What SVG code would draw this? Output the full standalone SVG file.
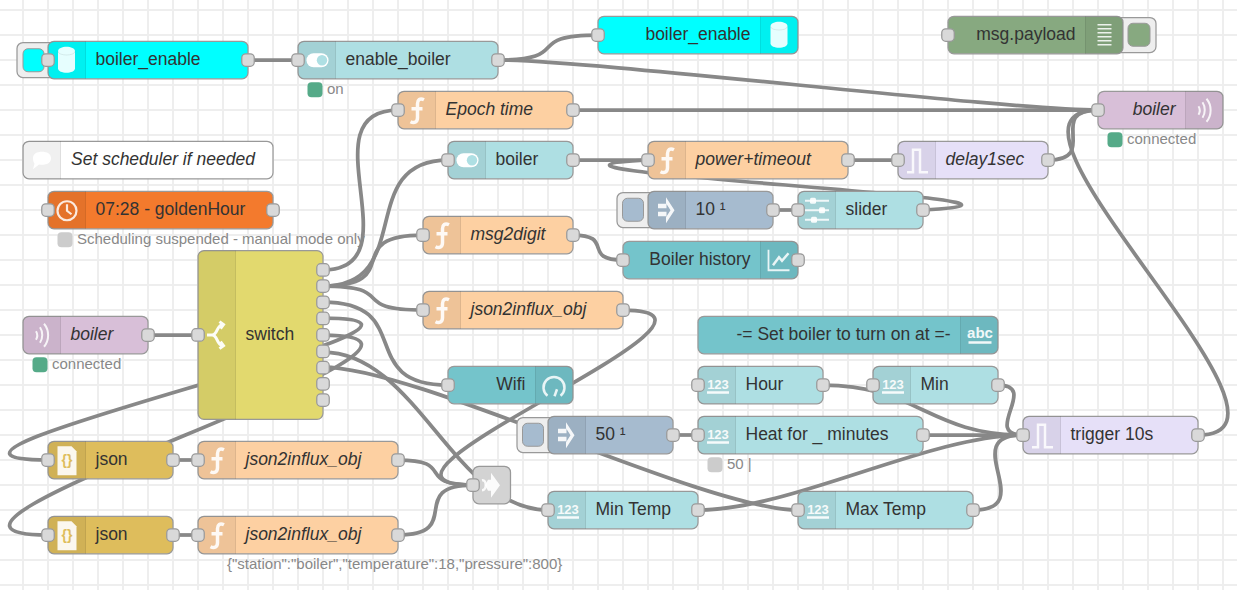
<svg xmlns="http://www.w3.org/2000/svg" width="1237" height="590" viewBox="0 0 1237 590">
<style>
text{font-family:"Liberation Sans",Arial,sans-serif;font-size:17.5px;fill:#333}
.it{font-style:italic}
.r{text-anchor:end}
.st{font-size:15px;fill:#888}
.n{height:37.5px;rx:6px;ry:6px;stroke:#999;stroke-width:1.25}
.p{width:12.5px;height:12.5px;rx:4px;ry:4px;fill:#d9d9d9;stroke:#999;stroke-width:1.25}
.b{height:35px;rx:6px;ry:6px;fill:#eee;stroke:#999;stroke-width:1.25}
.bi{height:23px;rx:5px;ry:5px;stroke:#999;stroke-width:1}
.d{width:15px;height:15px;rx:4px;ry:4px}
.w{fill:none;stroke:#888;stroke-width:3.75}
.g{stroke:#eee;stroke-width:2;fill:none}
.iw{fill:none;stroke:#fff;stroke-width:2.5;opacity:.85}
.if{fill:#fff;opacity:.9}
.ic{font-size:13px;font-weight:bold;fill:#fff;text-anchor:middle;opacity:.9}
.cy{fill:#0ff}.lt{fill:#aedfe3}.dk{fill:#74c4cb}.fn{fill:#fdd0a2}.gr{fill:#87a980}.mq{fill:#d8bfd8}.tr{fill:#e6e0f8}.ij{fill:#a6bbcf}.cr{fill:#f37a2d}.js{fill:#debd5c}.sw{fill:#e2d96e}.jn{fill:#d3d3d3}.wh{fill:#fff}
</style>
<defs>
<g id="il"><path d="M6 0H37.5V37.5H6a6 6 0 0 1-6-6V6a6 6 0 0 1 6-6z" fill="#000" fill-opacity=".06"/><path d="M37.5 0V37.5" stroke="#000" stroke-opacity=".1" stroke-width="1"/></g>
<g id="ir"><path d="M0 0H31.5a6 6 0 0 1 6 6V31.5a6 6 0 0 1-6 6H0z" fill="#000" fill-opacity=".06"/><path d="M0 0V37.5" stroke="#000" stroke-opacity=".1" stroke-width="1"/></g>
<g id="i-db"><path class="if" d="M10 10c0-6 17-6 17 0v17c0 6-17 6-17 0z"/><path d="M10 10c0 5 17 5 17 0" fill="none" stroke="#000" stroke-opacity=".08"/></g>
<g id="i-tog"><rect x="8.5" y="12" width="22" height="14" rx="7" fill="#fff"/><circle cx="24" cy="19" r="5.2" fill="#aedfe3"/></g>
<g id="i-f"><path class="iw" style="stroke-width:3.5;opacity:.9" d="M26 8.500c-4-2-6.500 0-6.500 4v14c0 4-3 6-7 4M13.500 17.500h11"/></g>
<g id="i-inj"><path class="if" d="M10 12.500h8.500v4.500H10zM10 20.500h8.500V25H10zM18 6l8.500 13L18 32v-6l4.500-7L18 12z"/></g>
<g id="i-clock"><circle class="iw" style="stroke-width:2.2" cx="19" cy="19.500" r="9.500"/><path class="iw" style="stroke-width:2.2" d="M19 13v6.500l4.500 3.500"/></g>
<g id="i-sl"><path class="iw" style="stroke-width:2" d="M7 9.500h24M7 19h24M7 28.500h24"/><rect class="if" x="12" y="6.500" width="6" height="6" rx="1.500"/><rect class="if" x="21" y="16" width="6" height="6" rx="1.500"/><rect class="if" x="13" y="25.500" width="6" height="6" rx="1.500"/></g>
<g id="i-ch"><path class="iw" style="stroke-width:1.800" d="M8 8.500V29H29"/><path class="iw" d="M12.500 24l6-8 3 3.500 6.500-7.500"/></g>
<g id="i-ga"><path class="iw" d="M12 29.500a10.500 10.500 0 1 1 13 0"/><path class="iw" d="M19 30l2.500-7"/></g>
<g id="i-li"><path class="iw" style="stroke-width:1.500" d="M12 8.500h14M12 12.500h14M12 16.500h14M12 20.500h14M12 24.500h14M12 28.500h14"/></g>
<g id="i-wv"><path class="iw" style="stroke-width:2" d="M13 15c1.500 2.500 1.500 6 0 8.500M17 11c3 4.500 3 11 0 15.500M21 7.500c5.500 6.500 5.500 16.500 0 23"/></g>
<g id="i-tg"><path class="iw" d="M9 31H15V8.500H22V31H30"/></g>
<g id="i-js"><path class="if" d="M9.500 5h14l5 5v24h-19z"/><text x="19" y="24" style="font-size:14px;font-weight:bold;fill:#debd5c;text-anchor:middle">{}</text></g>
<g id="i-123"><text class="ic" x="20" y="23">123</text><rect class="if" x="9" y="25" width="22" height="2.500"/></g>
</defs>
<g id="grid">
<path class="g" d="M23 0V590M48 0V590M73 0V590M98 0V590M123 0V590M148 0V590M173 0V590M198 0V590M223 0V590M248 0V590M273 0V590M298 0V590M323 0V590M348 0V590M373 0V590M398 0V590M423 0V590M448 0V590M473 0V590M498 0V590M523 0V590M548 0V590M573 0V590M598 0V590M623 0V590M648 0V590M673 0V590M698 0V590M723 0V590M748 0V590M773 0V590M798 0V590M823 0V590M848 0V590M873 0V590M898 0V590M923 0V590M948 0V590M973 0V590M998 0V590M1023 0V590M1048 0V590M1073 0V590M1098 0V590M1123 0V590M1148 0V590M1173 0V590M1198 0V590M1223 0V590"/>
<path class="g" d="M0 10H1237M0 35H1237M0 60H1237M0 85H1237M0 110H1237M0 135H1237M0 160H1237M0 185H1237M0 210H1237M0 235H1237M0 260H1237M0 285H1237M0 310H1237M0 335H1237M0 360H1237M0 385H1237M0 410H1237M0 435H1237M0 460H1237M0 485H1237M0 510H1237M0 535H1237M0 560H1237M0 585H1237"/>
</g>
<g id="connectors">
<path class="w" d="M248 60H298"/>
<path class="w" d="M498 60C575 60 521 35 598 35"/>
<path class="w" d="M498 60C592 60 1004 110 1098 110"/>
<path class="w" d="M573 110H1098"/>
<path class="w" d="M1048 160C1101 160 1045 110 1098 110"/>
<path class="w" d="M1198 435C1332 435 964 110 1098 110"/>
<path class="w" d="M323 270C416.750 270 304.250 110 398 110"/>
<path class="w" d="M323 286C416.750 286 354.250 160 448 160"/>
<path class="w" d="M323 286C407 286 339 235 423 235"/>
<path class="w" d="M323 286C400 286 346 310 423 310"/>
<path class="w" d="M323 302C416.750 302 354.250 385 448 385"/>
<path class="w" d="M323 318C526.750 318 -155.750 460 48 460"/>
<path class="w" d="M323 335C526.750 335 -155.750 535 48 535"/>
<path class="w" d="M323 352C416.750 352 454.250 510 548 510"/>
<path class="w" d="M323 367C416.750 367 704.250 510 798 510"/>
<path class="w" d="M623 310C776.750 310 319.250 485 473 485"/>
<path class="w" d="M148 335H198"/>
<path class="w" d="M173 460H198"/>
<path class="w" d="M173 535H198"/>
<path class="w" d="M398 460C457 460 414 485 473 485"/>
<path class="w" d="M398 535C465.600 535 405.400 485 473 485"/>
<path class="w" d="M573 160H648"/>
<path class="w" d="M848 160H898"/>
<path class="w" d="M773 210H798"/>
<path class="w" d="M923 210C1126.750 199.600 444.250 170.400 648 160"/>
<path class="w" d="M573 235C615 235 581 260 623 260"/>
<path class="w" d="M673 435H698"/>
<path class="w" d="M823 385C916.750 385 929.250 435 1023 435"/>
<path class="w" d="M998 385C1040 385 981 435 1023 435"/>
<path class="w" d="M923 435H1023"/>
<path class="w" d="M698 510C791.750 510 929.250 435 1023 435"/>
<path class="w" d="M973 510C1040.600 510 955.400 435 1023 435"/>
</g>
<g id="nodes">
<g id="boiler-enable-in" transform="translate(48,41.250)"><rect class="b" x="-31" y="1.250" width="50"/><rect class="bi cy" x="-25" y="7.500" width="21"/><rect class="n cy" width="200"/><use href="#il"/><use href="#i-db"/><text x="47.500" y="23.500">boiler_enable</text><rect class="p" x="-6.250" y="12.500"/><rect class="p" x="193.750" y="12.500"/></g>
<g id="enable-boiler" transform="translate(298,41.250)"><rect class="n lt" width="200"/><use href="#il"/><use href="#i-tog"/><text x="47.500" y="23.500">enable_boiler</text><rect class="p" x="-6.250" y="12.500"/><rect class="p" x="193.750" y="12.500"/><rect class="d" x="9.500" y="41" fill="#5a8"/><text class="st" x="29" y="53">on</text></g>
<g id="boiler-enable-out" transform="translate(598,16.250)"><rect class="n cy" width="200"/><use href="#ir" x="162.500"/><use href="#i-db" x="162.500"/><text class="r" x="152.500" y="23.500">boiler_enable</text><rect class="p" x="-6.250" y="12.500"/></g>
<g id="debug" transform="translate(948,16.250)"><rect class="b" x="155" y="1.250" width="53"/><rect class="bi gr" x="180" y="7" width="22"/><rect class="n gr" width="175"/><use href="#ir" x="137.500"/><use href="#i-li" x="137.500"/><text class="r" x="127.500" y="23.500">msg.payload</text><rect class="p" x="-6.250" y="12.500"/></g>
<g id="epoch-time" transform="translate(398,91.250)"><rect class="n fn" width="175"/><use href="#il"/><use href="#i-f"/><text class="it" x="47.500" y="23.500">Epoch time</text><rect class="p" x="-6.250" y="12.500"/><rect class="p" x="168.750" y="12.500"/></g>
<g id="mqtt-out" transform="translate(1098,91.250)"><rect class="n mq" width="125"/><use href="#ir" x="87.500"/><use href="#i-wv" x="87.500"/><text class="r it" x="77.500" y="23.500">boiler</text><rect class="p" x="-6.250" y="12.500"/><rect class="d" x="9.500" y="41" fill="#5a8"/><text class="st" x="29" y="53">connected</text></g>
<g id="comment" transform="translate(23,141.250)"><rect class="n wh" width="250"/><use href="#il"/><path fill="#fff" d="M10 14c0-4.500 4-6.500 9-6.500s9 2 9 6.500-4 6.500-9 6.500c-1 0-2 0-3-.3L10 25l1.500-5.500C10.500 18 10 16 10 14z" transform="translate(0,3)"/><text class="it" x="48" y="23.500">Set scheduler if needed</text></g>
<g id="boiler-toggle" transform="translate(448,141.250)"><rect class="n lt" width="125"/><use href="#il"/><use href="#i-tog"/><text x="47.500" y="23.500">boiler</text><rect class="p" x="-6.250" y="12.500"/><rect class="p" x="118.750" y="12.500"/></g>
<g id="power-timeout" transform="translate(648,141.250)"><rect class="n fn" width="200"/><use href="#il"/><use href="#i-f"/><text class="it" x="47.500" y="23.500">power+timeout</text><rect class="p" x="-6.250" y="12.500"/><rect class="p" x="193.750" y="12.500"/></g>
<g id="delay1sec" transform="translate(898,141.250)"><rect class="n tr" width="150"/><use href="#il"/><use href="#i-tg"/><text class="it" x="47.500" y="23.500">delay1sec</text><rect class="p" x="-6.250" y="12.500"/><rect class="p" x="143.750" y="12.500"/></g>
<g id="golden-hour" transform="translate(48,191.250)"><rect class="n cr" width="225"/><use href="#il"/><use href="#i-clock"/><text x="47.500" y="23.500">07:28 - goldenHour</text><rect class="p" x="-6.250" y="12.500"/><rect class="p" x="218.750" y="12.500"/><rect class="d" x="9.500" y="41" fill="#ccc"/><text class="st" x="29" y="53">Scheduling suspended - manual mode only</text></g>
<g id="inject-10" transform="translate(648,191.250)"><rect class="b" x="-31" y="1.250" width="50"/><rect class="bi ij" x="-25.500" y="7" width="21"/><rect class="n ij" width="125"/><use href="#il"/><use href="#i-inj"/><text x="47.500" y="23.500">10 ¹</text><rect class="p" x="118.750" y="12.500"/></g>
<g id="slider" transform="translate(798,191.250)"><rect class="n lt" width="125"/><use href="#il"/><use href="#i-sl"/><text x="47.500" y="23.500">slider</text><rect class="p" x="-6.250" y="12.500"/><rect class="p" x="118.750" y="12.500"/></g>
<g id="msg2digit" transform="translate(423,216.250)"><rect class="n fn" width="150"/><use href="#il"/><use href="#i-f"/><text class="it" x="47.500" y="23.500">msg2digit</text><rect class="p" x="-6.250" y="12.500"/><rect class="p" x="143.750" y="12.500"/></g>
<g id="boiler-history" transform="translate(623,241.250)"><rect class="n dk" width="175"/><use href="#ir" x="137.500"/><use href="#i-ch" x="137.500"/><text class="r" x="127.500" y="23.500">Boiler history</text><rect class="p" x="-6.250" y="12.500"/><rect class="p" x="168.750" y="12.500"/></g>
<g id="json2influx-1" transform="translate(423,291.250)"><rect class="n fn" width="200"/><use href="#il"/><use href="#i-f"/><text class="it" x="47.500" y="23.500">json2influx_obj</text><rect class="p" x="-6.250" y="12.500"/><rect class="p" x="193.750" y="12.500"/></g>
<g id="set-boiler-text" transform="translate(698,316.250)"><rect class="n dk" width="300"/><use href="#ir" x="262.500"/><text x="282" y="22" style="font-size:15px;font-weight:bold;fill:#fff;text-anchor:middle;opacity:.9">abc</text><rect class="if" x="270.500" y="25" width="23" height="2.500"/><text class="r" x="252.500" y="23.500">-= Set boiler to turn on at =-</text></g>
<g id="mqtt-in" transform="translate(23,316.250)"><rect class="n mq" width="125"/><use href="#il"/><use href="#i-wv"/><text class="it" x="47.500" y="23.500">boiler</text><rect class="p" x="118.750" y="12.500"/><rect class="d" x="9.500" y="41" fill="#5a8"/><text class="st" x="29" y="53">connected</text></g>
<g id="switch" transform="translate(198,250.600)"><rect class="n sw" width="125" style="height:168.750px"/><path d="M6 0H37.500V168.750H6a6 6 0 0 1-6-6V6a6 6 0 0 1 6-6z" fill="#000" fill-opacity=".06"/><path d="M37.500 0V168.750" stroke="#000" stroke-opacity=".1"/><path class="iw" style="stroke-width:3;opacity:.95" d="M9 84.400H14C20 84.400 18 75 25 73.500M14 84.400C20 84.400 18 94 25 95.500M21.500 71l4 3-3 4M21.500 98l4-3-3-4"/><text x="47.500" y="89">switch</text><rect class="p" x="-6.250" y="78.100"/><rect class="p" x="118.750" y="13.100"/><rect class="p" x="118.750" y="29.200"/><rect class="p" x="118.750" y="45.400"/><rect class="p" x="118.750" y="61.600"/><rect class="p" x="118.750" y="78.100"/><rect class="p" x="118.750" y="94.600"/><rect class="p" x="118.750" y="110.800"/><rect class="p" x="118.750" y="127"/><rect class="p" x="118.750" y="143.200"/></g>
<g id="wifi" transform="translate(448,366.250)"><rect class="n dk" width="125"/><use href="#ir" x="87.500"/><use href="#i-ga" x="87.500"/><text class="r" x="77.500" y="23.500">Wifi</text><rect class="p" x="-6.250" y="12.500"/></g>
<g id="hour" transform="translate(698,366.250)"><rect class="n lt" width="125"/><use href="#il"/><use href="#i-123"/><text x="47.500" y="23.500">Hour</text><rect class="p" x="-6.250" y="12.500"/><rect class="p" x="118.750" y="12.500"/></g>
<g id="min" transform="translate(873,366.250)"><rect class="n lt" width="125"/><use href="#il"/><use href="#i-123"/><text x="47.500" y="23.500">Min</text><rect class="p" x="-6.250" y="12.500"/><rect class="p" x="118.750" y="12.500"/></g>
<g id="inject-50" transform="translate(548,416.250)"><rect class="b" x="-31" y="1.250" width="50"/><rect class="bi ij" x="-25.500" y="7" width="21"/><rect class="n ij" width="125"/><use href="#il"/><use href="#i-inj"/><text x="47.500" y="23.500">50 ¹</text><rect class="p" x="118.750" y="12.500"/></g>
<g id="heat" transform="translate(698,416.250)"><rect class="n lt" width="225"/><use href="#il"/><use href="#i-123"/><text x="47.500" y="23.500">Heat for _ minutes</text><rect class="p" x="-6.250" y="12.500"/><rect class="p" x="218.750" y="12.500"/><rect class="d" x="9.500" y="41" fill="#ccc"/><text class="st" x="29" y="53">50 |</text></g>
<g id="trigger" transform="translate(1023,416.250)"><rect class="n tr" width="175"/><use href="#il"/><use href="#i-tg"/><text x="47.500" y="23.500">trigger 10s</text><rect class="p" x="-6.250" y="12.500"/><rect class="p" x="168.750" y="12.500"/></g>
<g id="json-1" transform="translate(48,441.250)"><rect class="n js" width="125"/><use href="#il"/><use href="#i-js"/><text x="47.500" y="23.500">json</text><rect class="p" x="-6.250" y="12.500"/><rect class="p" x="118.750" y="12.500"/></g>
<g id="json2influx-2" transform="translate(198,441.250)"><rect class="n fn" width="200"/><use href="#il"/><use href="#i-f"/><text class="it" x="47.500" y="23.500">json2influx_obj</text><rect class="p" x="-6.250" y="12.500"/><rect class="p" x="193.750" y="12.500"/></g>
<g id="join" transform="translate(473,466.250)"><rect class="n jn" width="37.500"/><path class="if" d="M18 6.500l9 12.500-9 12.500v-7h-3l-3-5.500 3-5.500h3z"/><path class="iw" d="M9 14c5-1 5 10 0 10"/><rect class="p" x="-6.250" y="12.500"/></g>
<g id="min-temp" transform="translate(548,491.250)"><rect class="n lt" width="150"/><use href="#il"/><use href="#i-123"/><text x="47.500" y="23.500">Min Temp</text><rect class="p" x="-6.250" y="12.500"/><rect class="p" x="143.750" y="12.500"/></g>
<g id="max-temp" transform="translate(798,491.250)"><rect class="n lt" width="175"/><use href="#il"/><use href="#i-123"/><text x="47.500" y="23.500">Max Temp</text><rect class="p" x="-6.250" y="12.500"/><rect class="p" x="168.750" y="12.500"/></g>
<g id="json-2" transform="translate(48,516.250)"><rect class="n js" width="125"/><use href="#il"/><use href="#i-js"/><text x="47.500" y="23.500">json</text><rect class="p" x="-6.250" y="12.500"/><rect class="p" x="118.750" y="12.500"/></g>
<g id="json2influx-3" transform="translate(198,516.250)"><rect class="n fn" width="200"/><use href="#il"/><use href="#i-f"/><text class="it" x="47.500" y="23.500">json2influx_obj</text><rect class="p" x="-6.250" y="12.500"/><rect class="p" x="193.750" y="12.500"/><text class="st" x="29" y="53">{"station":"boiler","temperature":18,"pressure":800}</text></g>
</g>
</svg>
